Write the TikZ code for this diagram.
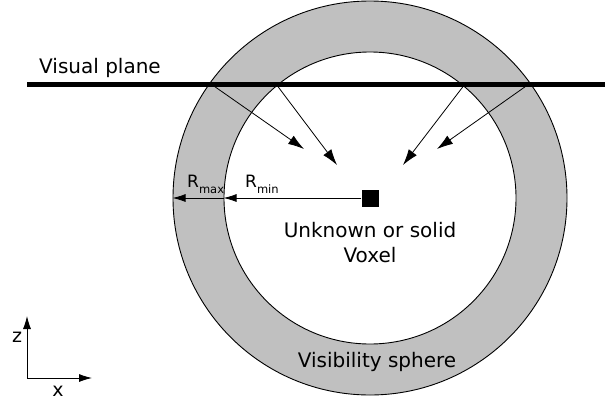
\documentclass[tikz,border=0pt]{standalone}
\usepackage{fontspec}
\setmainfont{DejaVu Sans}
\usetikzlibrary{arrows.meta,positioning}
\definecolor{ringgray}{RGB}{192,192,192}

\begin{document}
\begin{tikzpicture}[x=1pt,y=-1pt,
 ring/.style={draw,circle,line width=0.9pt,inner sep=0pt},
 ray/.style={-{Latex[length=16pt,width=10pt]},line width=0.8pt},
 rad/.style={-{Latex[length=13pt,width=8pt]},line width=0.8pt},
 ax/.style={-{Latex[length=13pt,width=8pt]},line width=0.8pt},
 lbl/.style={font=\fontsize{20}{25}\selectfont,inner sep=0pt},
 rlbl/.style={font=\fontsize{17}{17}\selectfont,inner sep=0pt,anchor=base west}]
\useasboundingbox (0,0) rectangle (605,402);
\node[ring,fill=ringgray,minimum size=394pt] (outer) at (370,198) {};
\node[ring,fill=white,minimum size=292pt] (inner) at (370,198) {};
\draw[line width=5pt] (27,84) coordinate (planeL) -- (605,84) coordinate (planeR);
\node[lbl,anchor=base west] (plane) at (39,73) {Visual plane};
% rays from where the plane cuts the sphere
\coordinate (hitA) at (211,84);
\coordinate (hitB) at (276,84);
\coordinate (hitC) at (465,84);
\coordinate (hitD) at (529,84);
\coordinate (tipA) at (304,149);
\coordinate (tipB) at (337,165);
\coordinate (tipC) at (403,165);
\coordinate (tipD) at (437,149);
\draw[ray] (hitA)--(tipA);
\draw[ray] (hitB)--(tipB);
\draw[ray] (hitC)--(tipC);
\draw[ray] (hitD)--(tipD);
\node[fill,minimum size=17pt,inner sep=0pt] (voxel) at (370,198) {};
\draw[rad] (voxel.west)--(inner.west);
\draw[rad] (inner.west)--(outer.west);
\node[rlbl] (rmax) at (187,187) {R\raisebox{-6pt}{\fontsize{11.5}{11.5}\selectfont max}};
\node[rlbl] (rmin) at (245,187) {R\raisebox{-6pt}{\fontsize{11.5}{11.5}\selectfont min}};
\node[lbl,align=center,below=15pt of voxel] (label) {Unknown or solid\\Voxel};
\node[lbl,anchor=base] (sphere) at (377,367) {Visibility sphere};
% axes
\coordinate (origin) at (27,378);
\coordinate (ztip) at (27,316);
\coordinate (xtip) at (92,378);
\draw[ax] (origin)--(ztip);
\draw[ax] (origin)--(xtip);
\node[lbl,font=\fontsize{19}{19}\selectfont] (zlab) at (17,337) {z};
\node[lbl,font=\fontsize{19}{19}\selectfont] (xlab) at (58,391) {x};
\end{tikzpicture}
\end{document}
